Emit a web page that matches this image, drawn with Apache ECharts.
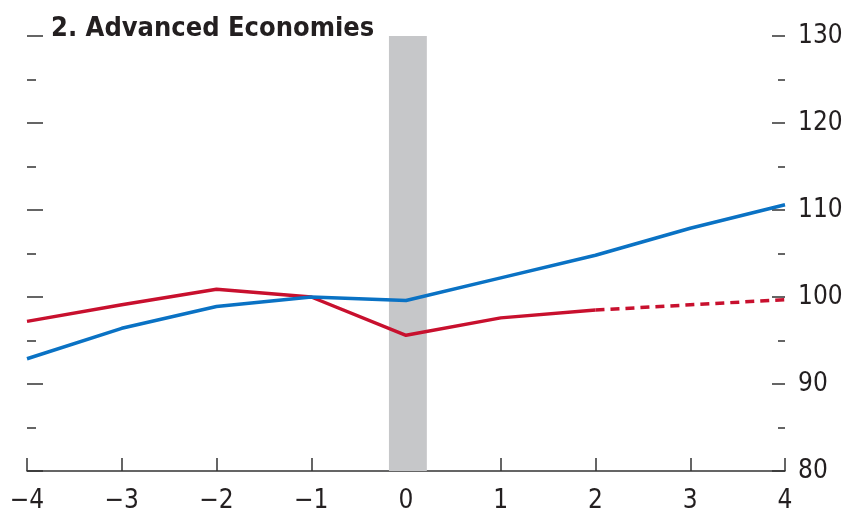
<!DOCTYPE html>
<html>
<head>
<meta charset="utf-8">
<script src="https://cdn.jsdelivr.net/npm/echarts@6/dist/echarts.min.js"></script>
<style>
  html, body { margin: 0; padding: 0; background: #fff; }
  #chart { width: 854px; height: 517px; }
</style>
</head>
<body>
<div id="chart"></div>
<script>
// years relative to event (t = 0)
var years = [-4, -3, -2, -1, 0, 1, 2, 3, 4];
var blueVals = [92.9, 96.4, 98.9, 100.0, 99.6, 102.2, 104.8, 107.9, 110.6];
var redVals = [97.2, 99.1, 100.9, 100.0, 95.6, 97.6, 98.5, 99.1, 99.7];
var lastActual = 6; // red is dashed after x = 2
var bandRange = [-0.18, 0.22];
var yTicks = [80, 90, 100, 110, 120, 130];

var font = '"DejaVu Sans Condensed", "Liberation Sans", sans-serif';
var ink = '#231f20';

function pairs(xs, ys, from, to) {
  var out = [];
  for (var i = from; i <= to; i++) out.push([xs[i], ys[i]]);
  return out;
}

var chart = echarts.init(document.getElementById('chart'));
chart.setOption({
  animation: false,
  title: {
    text: '2. Advanced Economies',
    left: 46,
    top: 10,
    textStyle: { fontFamily: font, fontWeight: 'bold', fontSize: 27, color: ink }
  },
  grid: { left: 27, right: 69, top: 36, bottom: 46 },
  xAxis: {
    type: 'value',
    min: -4, max: 4, interval: 1,
    splitLine: { show: false },
    axisLine: { lineStyle: { color: '#333', width: 1.5 } },
    axisTick: { inside: true, length: 13, lineStyle: { color: '#333', width: 1.5 } },
    axisLabel: {
      fontFamily: font, fontSize: 26, color: ink, margin: 17,
      formatter: function (v) { return String(v).replace('-', '\u2212'); }
    }
  },
  yAxis: [{
    type: 'value', position: 'left',
    min: yTicks[0], max: yTicks[yTicks.length - 1], interval: 10,
    splitLine: { show: false },
    axisLine: { show: false, onZero: false },
    axisLabel: { show: false },
    axisTick: { inside: true, length: 16, lineStyle: { color: '#333', width: 1.5 } },
    minorTick: { show: true, splitNumber: 2, length: 9, lineStyle: { color: '#333', width: 1.5 } }
  }, {
    type: 'value', position: 'right',
    min: yTicks[0], max: yTicks[yTicks.length - 1], interval: 10,
    splitLine: { show: false },
    axisLine: { show: false, onZero: false },
    axisTick: { inside: true, length: 13, lineStyle: { color: '#333', width: 1.5 } },
    minorTick: { show: true, splitNumber: 2, length: 7, lineStyle: { color: '#333', width: 1.5 } },
    axisLabel: { fontFamily: font, fontSize: 26, color: ink, margin: 13, padding: [4, 0, 0, 0] }
  }],
  series: [
    {
      type: 'line', data: [], z: 1,
      markArea: {
        silent: true,
        itemStyle: { color: '#c6c7c9' },
        data: [[{ xAxis: bandRange[0], y: 36 }, { xAxis: bandRange[1], y: 471 }]]
      }
    },
    {
      name: 'red', type: 'line', z: 3,
      data: pairs(years, redVals, 0, lastActual),
      showSymbol: false,
      lineStyle: { color: '#c8102e', width: 3.5 }
    },
    {
      name: 'red proj', type: 'line', z: 3,
      data: pairs(years, redVals, lastActual, years.length - 1),
      showSymbol: false,
      lineStyle: { color: '#c8102e', width: 3.5, type: [9, 6] }
    },
    {
      name: 'blue', type: 'line', z: 4,
      data: pairs(years, blueVals, 0, years.length - 1),
      showSymbol: false,
      lineStyle: { color: '#0a72c4', width: 3.5 }
    }
  ]
});
</script>
</body>
</html>
